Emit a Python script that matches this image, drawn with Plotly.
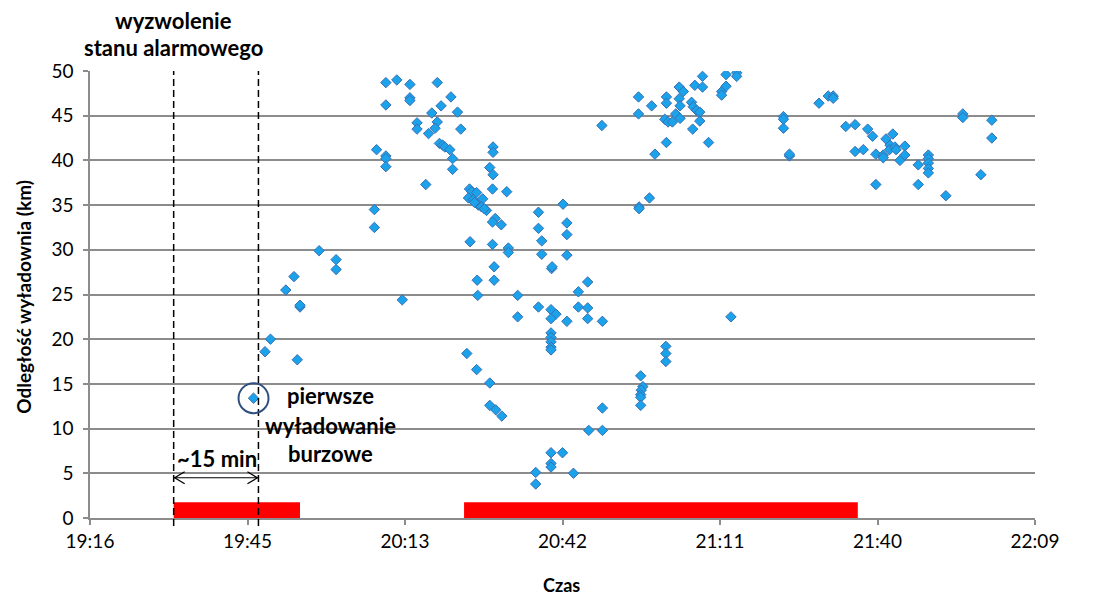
import plotly.graph_objects as go

# ---- data (time = minutes after 19:00, distance in km) ----
czas_min = [
    46.2, 48.3, 49.3, 52.1, 53.6, 54.7, 54.7, 54.2, 58.2, 61.3, 61.3,
    68.3, 68.3, 68.7, 70.4, 70.4, 70.4, 70.4, 70.4, 72.4, 73.4, 74.8, 74.8, 74.8,
    76.1, 76.1, 77.7, 78.2, 78.8, 79.8, 82.3, 80.5, 83.5, 79.8, 79.4, 84.1,
    80.2, 80.8, 81.2, 82.1, 82.6, 82.6, 90.0, 90.0, 89.4, 90.0, 89.9, 92.5,
    85.7, 86.1, 87.0, 85.5, 86.4, 88.1, 87.3, 87.9, 88.8, 86.6, 88.4,
    90.4, 89.9, 91.5, 98.3, 102.8, 98.3, 98.9, 103.5, 103.5,
    85.8, 89.9, 92.8, 92.8, 98.9, 103.5, 90.2, 100.7, 100.8, 87.1, 90.2,
    107.3, 105.6, 87.2, 94.5, 94.5, 98.3, 100.6, 101.5, 100.6, 103.5,
    105.6, 107.3, 107.3, 110.0, 100.6, 100.6, 100.6, 100.6, 100.6,
    85.2, 87.0, 89.4, 89.4, 90.5, 91.6, 110.0, 107.5, 110.0,
    100.6, 102.7, 100.6, 100.6, 97.8, 97.8, 104.7, 109.9,
    116.6, 116.6, 119.0, 121.7, 121.7, 124.05, 124.8, 124.05, 124.2,
    121.4, 122.0, 122.8, 123.4, 124.2, 126.9, 128.3, 128.3,
    126.3, 126.6, 127.2, 127.8, 127.8, 126.5, 129.4, 121.7, 119.6,
    131.8, 131.8, 132.6, 132.6, 134.55, 134.55,
    143.1, 143.1, 143.1, 144.2, 144.2, 118.6, 116.7, 116.7,
    133.5, 121.6, 121.6, 121.6, 117.0, 117.4, 117.1, 117.0, 117.0, 117.0,
    149.6, 151.3, 152.2, 152.2, 154.5, 156.2, 158.5, 159.4, 156.2, 157.7,
    160.0, 160.0, 161.35, 161.35, 161.85, 162.6, 163.1, 162.5, 163.5, 163.7,
    164.4, 165.3, 165.3, 167.75, 167.75, 169.6, 169.6, 169.6, 169.6, 169.6,
    172.8, 175.9, 175.9, 181.2, 181.2, 179.2,
]
odleglosc_km = [
    13.4, 18.6, 20.0, 25.5, 27.0, 23.6, 23.8, 17.7, 29.9, 28.9, 27.8,
    34.5, 32.5, 41.2, 40.5, 40.2, 39.3, 48.7, 46.2, 49.0, 24.4, 48.5, 47.0, 46.7,
    44.2, 43.5, 37.3, 43.0, 45.3, 48.7, 47.1, 46.1, 45.4, 44.3, 43.6, 43.5,
    41.9, 41.7, 41.5, 41.2, 40.2, 39.0, 41.5, 40.9, 39.2, 38.4, 36.8, 36.5,
    36.8, 36.5, 36.4, 35.8, 35.6, 35.7, 35.0, 34.8, 34.4, 35.3, 34.6,
    33.5, 33.1, 32.8, 34.2, 35.1, 32.4, 31.0, 33.0, 31.7,
    30.9, 30.6, 30.2, 29.7, 29.5, 29.4, 28.1, 27.9, 28.1, 26.6, 26.6,
    26.4, 25.3, 24.9, 24.9, 22.5, 23.6, 23.3, 22.8, 22.3, 22.0,
    23.6, 23.5, 22.3, 22.0, 20.7, 20.2, 19.7, 19.1, 18.8,
    18.4, 16.6, 15.1, 12.6, 12.1, 11.4, 12.3, 9.8, 9.8,
    7.3, 7.3, 6.1, 5.7, 5.1, 3.8, 5.0, 43.9,
    47.1, 45.2, 46.1, 47.1, 46.4, 48.2, 47.7, 46.9, 46.1,
    44.6, 44.3, 44.3, 45.2, 44.7, 48.4, 49.4, 48.2,
    46.5, 46.0, 45.6, 45.4, 44.4, 43.5, 42.0, 42.0, 40.7,
    47.7, 47.3, 48.3, 49.6, 49.8, 49.4,
    44.9, 44.6, 43.6, 40.5, 40.7, 35.8, 34.8, 34.6,
    22.5, 19.2, 18.4, 17.5, 15.9, 14.7, 14.3, 13.8, 13.5, 12.6,
    46.4, 47.2, 47.2, 46.95, 43.8, 44.0, 43.5, 42.7, 41.0, 41.2,
    40.7, 37.3, 40.6, 40.3, 42.4, 41.7, 42.95, 41.2, 41.5, 41.2,
    40.0, 41.6, 40.6, 39.5, 37.3, 40.6, 40.2, 39.7, 39.1, 38.6,
    36.05, 45.2, 44.8, 44.5, 42.5, 38.4,
]

# alarm state intervals (minutes after 19:00)
alarm_start_min = [31.6, 84.7]
alarm_end_min = [54.7, 156.7]
alarm_bar_km = 1.75

# key moments
wyzwolenie_min = 31.6      # alarm triggered
reakcja_min = 47.1         # ~15 min later
pierwsze_min = 46.2        # first lightning
pierwsze_km = 13.4

# axis ticks
tick_min = [16.3, 45.1, 73.9, 102.7, 131.5, 160.3, 189.1]
tick_labels = ["19:16", "19:45", "20:13", "20:42", "21:11", "21:40", "22:09"]
y_ticks = [0, 5, 10, 15, 20, 25, 30, 35, 40, 45, 50]

FONT = "Lato"
GRID = "#8c8c8c"

fig = go.Figure()
fig.add_trace(go.Scatter(
    x=czas_min, y=odleglosc_km, mode="markers",
    marker=dict(symbol="diamond", size=8, color="#1aa3ea",
                line=dict(color="#3a6fb4", width=1)),
    hoverinfo="x+y", showlegend=False,
))

shapes = []
for s, e in zip(alarm_start_min, alarm_end_min):
    shapes.append(dict(type="rect", xref="x", yref="y", x0=s, x1=e, y0=0, y1=alarm_bar_km,
                       fillcolor="#ff0000", line=dict(width=0), layer="above"))
for xv in [wyzwolenie_min, reakcja_min]:
    shapes.append(dict(type="line", xref="x", yref="paper", x0=xv, x1=xv, y0=-0.018, y1=1,
                       line=dict(color="#000000", width=1.5, dash="7px,4px"), layer="above"))
# double arrow (~15 min)
arrow_km = 4.5
shapes.append(dict(type="line", xref="x", yref="y", x0=wyzwolenie_min, x1=reakcja_min,
                   y0=arrow_km, y1=arrow_km, line=dict(color="#000000", width=1.2), layer="above"))
shapes.append(dict(type="path", xref="x", yref="y", xsizemode="pixel", ysizemode="pixel",
                   xanchor=wyzwolenie_min, yanchor=arrow_km,
                   path="M 11,6 L 1,0 L 11,-6", line=dict(color="#000000", width=1.3), layer="above"))
shapes.append(dict(type="path", xref="x", yref="y", xsizemode="pixel", ysizemode="pixel",
                   xanchor=reakcja_min, yanchor=arrow_km,
                   path="M -11,6 L -1,0 L -11,-6", line=dict(color="#000000", width=1.3), layer="above"))
# circle around first discharge
shapes.append(dict(type="circle", xref="x", yref="y", xsizemode="pixel", ysizemode="pixel",
                   xanchor=pierwsze_min, yanchor=pierwsze_km, x0=-15, x1=15, y0=-15, y1=15,
                   line=dict(color="#2f4f80", width=2), layer="above"))

bold = dict(family=FONT, size=22, color="#000000", weight="bold")
anns = []
for txt, py in [("wyzwolenie", 1.114), ("stanu alarmowego", 1.052)]:
    anns.append(dict(text=txt, xref="x", yref="paper", x=wyzwolenie_min, y=py,
                     showarrow=False, xanchor="center", yanchor="middle", font=bold))
for txt, ky in [("pierwsze", 13.65), ("wyładowanie", 10.4), ("burzowe", 7.27)]:
    anns.append(dict(text=txt, xref="x", yref="y", x=60.2, y=ky,
                     showarrow=False, xanchor="center", yanchor="middle", font=bold))
anns.append(dict(text="~15 min", xref="x", yref="y", x=39.5, y=6.71,
                 showarrow=False, xanchor="center", yanchor="middle", font=bold))
anns.append(dict(text="Czas", xref="paper", yref="paper", x=0.4985, y=-0.15,
                 showarrow=False, xanchor="center", yanchor="middle",
                 font=dict(family=FONT, size=18, color="#000000", weight="bold")))
anns.append(dict(text="Odległość wyładownia (km)", xref="paper", yref="paper", x=-0.0698, y=0.495,
                 showarrow=False, textangle=-90, xanchor="center", yanchor="middle",
                 font=dict(family=FONT, size=19, color="#000000", weight="bold")))

# page body has an 8px margin, so the figure is 8px smaller and margins shifted
fig.update_layout(
    width=1095, height=587,
    margin=dict(l=82, r=68, t=63, b=77, autoexpand=False),
    plot_bgcolor="white", paper_bgcolor="white",
    font=dict(family=FONT, size=19, color="#000000"),
    shapes=shapes, annotations=anns,
    xaxis=dict(range=[tick_min[0], tick_min[-1]], tickmode="array", tickvals=tick_min,
               ticktext=tick_labels, showgrid=False, zeroline=False,
               showline=True, linecolor=GRID, linewidth=1.5,
               ticks="outside", ticklen=5, tickcolor=GRID, tickwidth=1.5,
               tickfont=dict(family=FONT, size=19, color="#000000")),
    yaxis=dict(range=[0, 50], tickmode="array", tickvals=y_ticks,
               showgrid=True, gridcolor=GRID, gridwidth=1.5, zeroline=False,
               showline=True, linecolor=GRID, linewidth=1.5,
               ticks="outside", ticklen=5, tickcolor=GRID, tickwidth=1.5,
               ticklabelstandoff=6,
               tickfont=dict(family=FONT, size=19, color="#000000")),
)

fig.write_html("out.html")
